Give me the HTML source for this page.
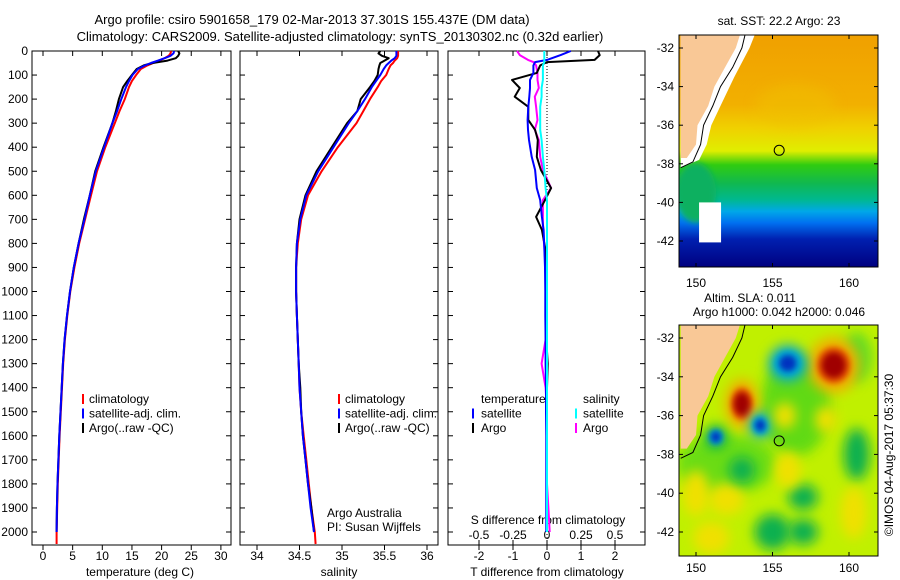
<!DOCTYPE html>
<html><head><meta charset="utf-8"><style>
body{margin:0;background:#fff;}
svg{display:block;font-family:"Liberation Sans",sans-serif;}
text{fill:#000;}
</style></head><body>
<svg id="fig" width="900" height="580" viewBox="0 0 900 580" xmlns="http://www.w3.org/2000/svg">
<defs>
<clipPath id="clipTop"><rect x="679" y="35" width="199" height="232"/></clipPath>
<clipPath id="clipBot"><rect x="679" y="325" width="199" height="231"/></clipPath>
<filter id="blur6" x="-50%" y="-50%" width="200%" height="200%"><feGaussianBlur stdDeviation="6"/></filter>
<filter id="blur3" x="-50%" y="-50%" width="200%" height="200%"><feGaussianBlur stdDeviation="3"/></filter>
<linearGradient id="sstGrad" x1="0" y1="0" x2="0" y2="1">
<stop offset="0" stop-color="#f0a000"/><stop offset="0.3" stop-color="#f2b000"/><stop offset="0.4" stop-color="#f0d000"/>
<stop offset="0.5" stop-color="#e0ee00"/><stop offset="0.56" stop-color="#30cc10"/><stop offset="0.64" stop-color="#10b850"/>
<stop offset="0.71" stop-color="#00b890"/><stop offset="0.76" stop-color="#00a8e8"/><stop offset="0.81" stop-color="#0070f0"/>
<stop offset="0.88" stop-color="#0020b0"/><stop offset="1" stop-color="#000080"/></linearGradient>
</defs>
<g id="titles">
<text x="312" y="24" font-size="13" text-anchor="middle">Argo profile: csiro 5901658_179 02-Mar-2013 37.301S 155.437E (DM data)</text>
<text x="340" y="41" font-size="13" text-anchor="middle">Climatology: CARS2009. Satellite-adjusted climatology: synTS_20130302.nc (0.32d earlier)</text>
</g>
<g id="panels"></g>
<g id="maps"></g>
</svg>
<script>
const NS="http://www.w3.org/2000/svg";
// ---- profile data ----
const depth=[0,10,20,30,40,50,60,75,100,125,150,200,250,300,400,500,600,700,800,900,1000,1100,1200,1300,1400,1500,1600,1700,1800,1900,2000,2050];
const tempClim=[21.6,21.5,21.2,20.5,19.6,18.6,17.6,16.5,15.7,15.0,14.5,13.8,12.9,12.1,10.5,9.1,8.1,7.1,6.1,5.3,4.6,4.1,3.7,3.4,3.2,3.0,2.8,2.65,2.5,2.4,2.3,2.3];
const tempSat=[22.1,22.0,21.5,20.5,19.4,18.2,17.2,16.0,15.1,14.5,14.0,13.2,12.5,11.7,10.3,8.9,7.9,7.0,6.0,5.2,4.55,4.05,3.65,3.35,3.15,2.95,2.75,2.6,2.45,2.35,2.3];
const tempArgo=[22.8,23.0,22.8,22.4,21.0,18.5,17.0,15.8,15.0,14.2,13.5,12.8,12.3,11.7,10.2,8.8,7.9,6.9,6.0,5.2,4.55,4.05,3.65,3.35,3.15,2.95,2.75,2.6,2.45,2.35,2.3];
const salClim=[35.66,35.66,35.66,35.65,35.62,35.6,35.57,35.55,35.52,35.46,35.42,35.33,35.25,35.17,34.95,34.76,34.6,34.52,34.48,34.46,34.46,34.47,34.48,34.49,34.5,34.52,34.55,34.58,34.61,34.64,34.68,34.69];
const salSat=[35.64,35.64,35.64,35.62,35.58,35.55,35.52,35.49,35.45,35.4,35.35,35.27,35.18,35.08,34.9,34.72,34.58,34.51,34.47,34.46,34.46,34.47,34.48,34.49,34.5,34.52,34.54,34.57,34.6,34.63,34.67];
const salArgo=[35.45,35.43,35.47,35.55,35.5,35.45,35.44,35.43,35.42,35.38,35.33,35.22,35.18,35.06,34.88,34.7,34.57,34.5,34.47,34.46,34.46,34.47,34.48,34.49,34.51,34.52,34.54,34.57,34.6,34.64,34.67];
const diffDepth=[0,17,37,46,60,91,120,154,190,232,287,328,370,440,495,570,620,690,744,815,900,1000,1100,1200,1300,1400,1500,1600,1700,1800,1900,2000];
const tDiffArgo=[1.5,1.55,1.4,0.0,-0.2,-0.3,-1.03,-0.8,-0.95,-0.55,-0.55,-0.35,-0.27,-0.3,-0.18,0.12,-0.06,-0.32,-0.15,-0.06,-0.05,-0.03,-0.03,-0.02,0.02,0,0,0,0,0,0,0];
const tDiffSat=[0.7,0.4,0.0,-0.35,-0.4,-0.4,-0.5,-0.5,-0.52,-0.55,-0.57,-0.56,-0.53,-0.45,-0.35,-0.3,-0.2,-0.15,-0.1,-0.08,-0.06,-0.05,-0.05,-0.04,-0.04,-0.03,-0.03,-0.02,-0.02,-0.02,-0.02,-0.02];
const sDiffArgo=[-0.22,-0.2,-0.14,-0.1,-0.08,-0.07,-0.07,-0.06,-0.09,-0.08,-0.07,-0.09,-0.06,-0.05,-0.03,0.03,-0.03,-0.03,-0.03,-0.02,-0.01,-0.01,-0.01,-0.01,-0.04,-0.01,0,0,0,0,0.01,0.02];
const sDiffSat=[-0.02,-0.02,-0.02,-0.02,-0.03,-0.03,-0.03,-0.04,-0.04,-0.05,-0.05,-0.05,-0.04,-0.03,-0.02,-0.01,0,0,0,0,0,0,0,0,0,0,0,0,0,0,0,0];
const depthTicks=[0,100,200,300,400,500,600,700,800,900,1000,1100,1200,1300,1400,1500,1600,1700,1800,1900,2000];
const tempTicks=[0,5,10,15,20,25,30];
const salTicks=[34,34.5,35,35.5,36];
const tDiffTicks=[-2,-1,0,1,2];
const sDiffTicks=[-0.5,-0.25,0,0.25,0.5];
const sDiffTickLabels=["-0.5","-0.25","0","0.25","0.5"];
// ---- map data ----
const mapLonTicks=[150,155,160];
const mapLatTicks=[-32,-34,-36,-38,-40,-42];
const argoLon=155.437, argoLat=-37.301;
const slaBlobLon=[153,159,156,154.2,151.3,152,150,157,156,158.5,151,153,155.8,160.5,155,157,160.3];
const slaBlobLat=[-35.4,-33.4,-33.3,-36.5,-37.1,-40.3,-40,-40.2,-38.8,-36.2,-42.3,-38.8,-36,-38,-42,-42,-41];
const slaBlobVal=[0.9,0.85,-0.9,-0.7,-0.6,0.45,0.35,-0.35,0.3,0.3,0.2,-0.2,0.3,-0.2,-0.25,-0.3,0.25];
const slaBlobRx=[17,26,19,11,11,18,13,15,13,11,18,13,11,13,18,15,13];
const slaBlobRy=[25,28,18,13,12,16,23,13,18,13,16,13,13,26,18,13,26];

// ---- axis functions ----
const yD=d=>51+d*0.2405;
const xT=t=>43+t*5.93;
const xS=s=>257+(s-34)*85;
const xTD=v=>547+v*34;
const xSD=v=>547+v*136;
const mxLon=lon=>696+(lon-150)*15.3;
const myTop=lat=>48+(-32-lat)*19.3;
const myBot=lat=>338+(-32-lat)*19.4;

function el(tag,attrs,parent,txt){const e=document.createElementNS(NS,tag);for(const k in attrs)e.setAttribute(k,attrs[k]);if(txt!==undefined)e.textContent=txt;parent.appendChild(e);return e;}
const P=document.getElementById('panels');
const frames=[{x0:32,x1:231},{x0:240,x1:438},{x0:448,x1:645}];
const TOP=51,BOT=545;

function line(xs,ds,fx,color,parent,name,w){
  const pts=xs.map((v,i)=>fx(v).toFixed(1)+","+yD(ds[i]).toFixed(1)).join(" ");
  const e=el('polyline',{points:pts,fill:'none',stroke:color,'stroke-width':w||2,'stroke-linejoin':'round'},parent);
  
  
  return e;
}
function frame(f,name){
  const g=el('g',{},P);
  
  
  el('rect',{x:f.x0,y:TOP,width:f.x1-f.x0,height:BOT-TOP,fill:'#fff',stroke:'#000','stroke-width':1},g);
  depthTicks.forEach(d=>{el('line',{x1:f.x0,x2:f.x0+5,y1:yD(d),y2:yD(d),stroke:'#000'},g);el('line',{x1:f.x1-5,x2:f.x1,y1:yD(d),y2:yD(d),stroke:'#000'},g);});
  return g;
}
function xTicks(g,ticks,fx,labels,ly){
  ticks.forEach((t,i)=>{const x=fx(t);el('line',{x1:x,x2:x,y1:TOP,y2:TOP+5,stroke:'#000'},g);el('line',{x1:x,x2:x,y1:BOT,y2:BOT+5,stroke:'#000'},g);
    const tx=el('text',{x:x,y:ly,'font-size':12,'text-anchor':'middle'},g,labels?labels[i]:String(t));
    
    });
}
// panel 1
const g1=frame(frames[0],'temperature-panel');
depthTicks.forEach(d=>{const t=el('text',{x:28,y:yD(d)+4,'font-size':12,'text-anchor':'end'},g1,String(d));
  
  });
xTicks(g1,tempTicks,xT,null,560);
el('text',{x:140,y:576,'font-size':12,'text-anchor':'middle',},g1,'temperature (deg C)');
line(tempClim,depth,xT,'#f00',g1,'temp-climatology-line');
line(tempArgo,depth,xT,'#000',g1,'temp-argo-line');
line(tempSat,depth,xT,'#00f',g1,'temp-satellite-line');
// panel 2
const g2=frame(frames[1],'salinity-panel');
xTicks(g2,salTicks,xS,null,560);
el('text',{x:339,y:576,'font-size':12,'text-anchor':'middle',},g2,'salinity');
line(salClim,depth,xS,'#f00',g2,'sal-climatology-line');
line(salArgo,depth,xS,'#000',g2,'sal-argo-line');
line(salSat,depth,xS,'#00f',g2,'sal-satellite-line');
el('text',{x:327,y:517,'font-size':12,},g2,'Argo Australia');
el('text',{x:327,y:531,'font-size':12,},g2,'PI: Susan Wijffels');
// legends 1 & 2
function legend(g,x,items){items.forEach((it,i)=>{const y=402+i*14.5;
  el('rect',{x:x,y:y-8,width:2,height:10,fill:it[1]},g);
  const t=el('text',{x:x+7,y:y+1,'font-size':12},g,it[0]);
  
  });}
const legItems=[['climatology','#f00'],['satellite-adj. clim.','#00f'],['Argo(..raw -QC)','#000']];
legend(g1,82,legItems);legend(g2,338,legItems);
// panel 3
const g3=frame(frames[2],'difference-panel');
xTicks(g3,tDiffTicks,xTD,null,560);
sDiffTicks.forEach((t,i)=>{const x=xSD(t);el('line',{x1:x,x2:x,y1:BOT,y2:BOT-5,stroke:'#000'},g3);
  const tx=el('text',{x:x,y:539,'font-size':12,'text-anchor':'middle'},g3,sDiffTickLabels[i]);
  
  });
el('text',{x:548,y:524,'font-size':12,'text-anchor':'middle',},g3,'S difference from climatology');
el('text',{x:547,y:576,'font-size':12,'text-anchor':'middle',},g3,'T difference from climatology');
el('line',{x1:xTD(0),x2:xTD(0),y1:TOP,y2:BOT,stroke:'#000','stroke-dasharray':'1,2'},g3);
line(sDiffArgo,diffDepth,xSD,'#f0f',g3,'s-diff-argo-line');
line(tDiffArgo,diffDepth,xTD,'#000',g3,'t-diff-argo-line');
line(tDiffSat,diffDepth,xTD,'#00f',g3,'t-diff-satellite-line');
line(sDiffSat,diffDepth,xSD,'#0ff',g3,'s-diff-satellite-line');
[['temperature',null],['satellite','#00f'],['Argo','#000']].forEach((it,i)=>{const y=402+i*14.5;if(it[1])el('rect',{x:472,y:y-8,width:2,height:10,fill:it[1]},g3);const t=el('text',{x:481,y:y+1,'font-size':12},g3,it[0]);});
[['salinity',null],['satellite','#0ff'],['Argo','#f0f']].forEach((it,i)=>{const y=402+i*14.5;if(it[1])el('rect',{x:575,y:y-8,width:2,height:10,fill:it[1]},g3);const t=el('text',{x:583,y:y+1,'font-size':12},g3,it[0]);});

// ---- maps ----
const M=document.getElementById('maps');
function landPoly(my){return [[149,-31],[153.0,-31],[152.6,-32],[151.9,-33],[151.2,-34],[150.8,-35],[150.1,-36],[150.0,-37],[149.4,-37.7],[149,-37.7]].map(p=>mxLon(p[0]).toFixed(1)+","+my(p[1]).toFixed(1)).join(" ");}
function coastLine(my){return [[153.3,-31],[153.0,-32],[152.4,-33],[151.6,-34],[151.1,-35],[150.5,-36],[150.3,-37],[149.8,-37.9],[149,-38.2]].map(p=>mxLon(p[0]).toFixed(1)+","+my(p[1]).toFixed(1)).join(" ");}
function mapAxes(g,y0,y1,my,lbly){
  el('rect',{x:679,y:y0,width:199,height:y1-y0,fill:'none',stroke:'#000'},g);
  mapLonTicks.forEach(l=>{const x=mxLon(l);el('line',{x1:x,x2:x,y1:y0,y2:y0+4,stroke:'#000'},g);el('line',{x1:x,x2:x,y1:y1,y2:y1-4,stroke:'#000'},g);
    const t=el('text',{x:x,y:lbly,'font-size':12,'text-anchor':'middle'},g,String(l));});
  mapLatTicks.forEach(l=>{const y=my(l);el('line',{x1:679,x2:683,y1:y,y2:y,stroke:'#000'},g);el('line',{x1:874,x2:878,y1:y,y2:y,stroke:'#000'},g);
    const t=el('text',{x:674,y:y+4,'font-size':12,'text-anchor':'end'},g,String(l));});
}
// top SST map
const gm1=el('g',{},M);
el('text',{x:779,y:25,'font-size':12,'text-anchor':'middle',},gm1,'sat. SST: 22.2 Argo: 23');
const c1=el('g',{'clip-path':'url(#clipTop)'},gm1);
el('rect',{x:679,y:35,width:199,height:232,fill:'url(#sstGrad)'},c1);
el('ellipse',{cx:mxLon(156.5),cy:myTop(-35),rx:40,ry:22,fill:'#f0c000',opacity:0.5,filter:'url(#blur6)'},c1);
el('ellipse',{cx:mxLon(150),cy:myTop(-39.5),rx:20,ry:30,fill:'#10b060',filter:'url(#blur3)'},c1);
el('rect',{x:mxLon(150.2),y:myTop(-40),width:22,height:40,fill:'#fff'},c1);
el('polygon',{points:[[149,-31],[154.0,-31],[153.5,-32],[152.5,-33.5],[151.6,-35],[151.0,-36],[150.7,-37],[150.2,-37.8],[149,-38.2]].map(p=>mxLon(p[0]).toFixed(1)+","+myTop(p[1]).toFixed(1)).join(" "),fill:'#fff'},c1);
el('polygon',{points:landPoly(myTop),fill:'#f9c896'},c1);
el('polyline',{points:coastLine(myTop),fill:'none',stroke:'#000','stroke-width':1},c1);
el('circle',{cx:mxLon(argoLon),cy:myTop(argoLat),r:5,fill:'none',stroke:'#000',},gm1);
mapAxes(gm1,35,267,myTop,287);
// bottom SLA map
const gm2=el('g',{},M);
el('text',{x:750,y:302,'font-size':12,'text-anchor':'middle',},gm2,'Altim. SLA: 0.011');
el('text',{x:779,y:316,'font-size':12,'text-anchor':'middle',},gm2,'Argo h1000: 0.042 h2000: 0.046');
const c2=el('g',{'clip-path':'url(#clipBot)'},gm2);
el('rect',{x:679,y:325,width:199,height:231,fill:'#c0f000'},c2);
[[152,-38.5,50,30,'#30d020'],[156.5,-35.5,35,50,'#20cc20'],[160.5,-33,15,25,'#20cc40']].forEach(b=>el('ellipse',{cx:mxLon(b[0]),cy:myBot(b[1]),rx:b[2],ry:b[3],fill:b[4],opacity:0.6,filter:'url(#blur6)'},c2));
function slaColor(v){if(v>0.7)return '#a00000';if(v>0.5)return '#e05000';if(v>0.25)return '#f0b000';if(v>0)return '#f0e000';if(v>-0.3)return '#10b050';if(v>-0.6)return '#00a8d0';return '#0030c0';}
slaBlobVal.forEach((v,i)=>{
  const cx=mxLon(slaBlobLon[i]),cy=myBot(slaBlobLat[i]);
  const b=el('ellipse',{cx:cx,cy:cy,rx:slaBlobRx[i],ry:slaBlobRy[i],fill:slaColor(v*0.45),filter:'url(#blur6)'},c2);
  
  
  if(Math.abs(v)>0.5){el('ellipse',{cx:cx,cy:cy,rx:slaBlobRx[i]*0.65,ry:slaBlobRy[i]*0.65,fill:slaColor(v*0.65),filter:'url(#blur3)'},c2);
    el('ellipse',{cx:cx,cy:cy,rx:slaBlobRx[i]*0.45,ry:slaBlobRy[i]*0.45,fill:slaColor(v),filter:'url(#blur3)'},c2);}
});
el('polygon',{points:landPoly(myBot),fill:'#f9c896'},c2);
el('polyline',{points:coastLine(myBot),fill:'none',stroke:'#000','stroke-width':1},c2);
el('circle',{cx:mxLon(argoLon),cy:myBot(argoLat),r:5,fill:'none',stroke:'#000',},gm2);
mapAxes(gm2,325,556,myBot,572);
el('text',{x:0,y:0,'font-size':12,'text-anchor':'middle',transform:'translate(893,455) rotate(-90)',},gm2,'©IMOS 04-Aug-2017 05:37:30');
</script>
</body></html>
